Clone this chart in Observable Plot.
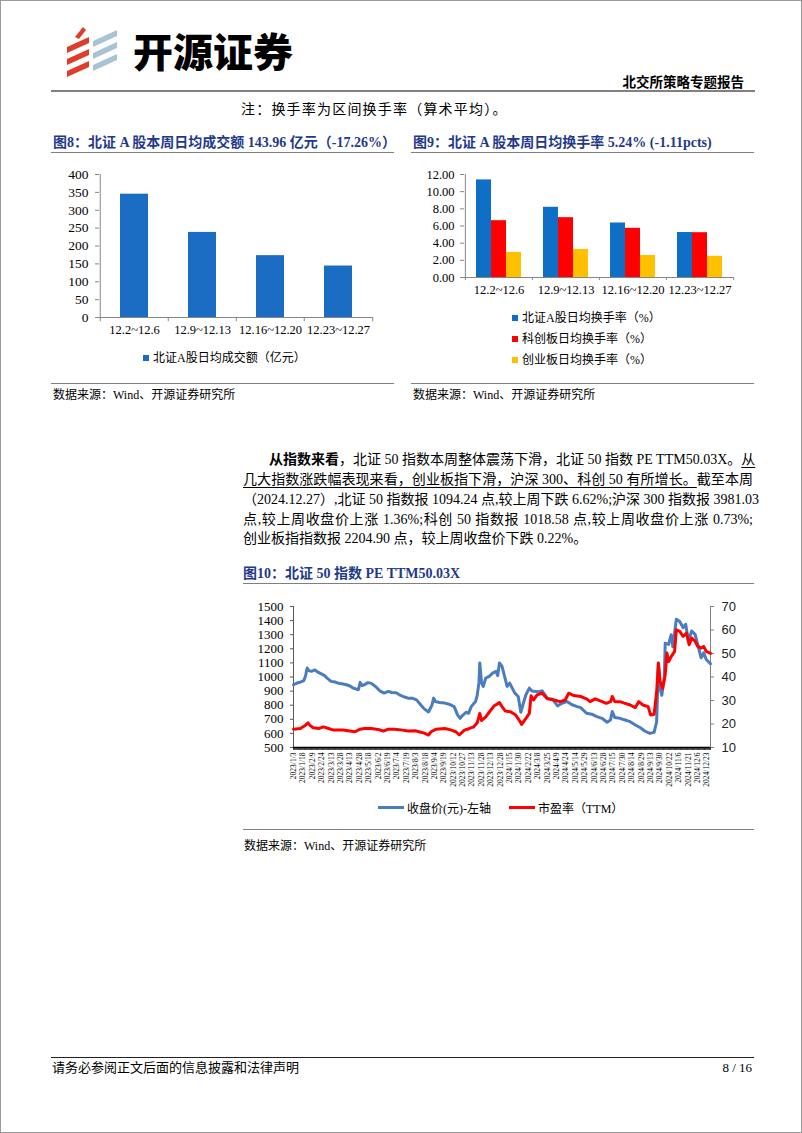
<!DOCTYPE html>
<html><head><meta charset="utf-8">
<script src="https://cdn.jsdelivr.net/npm/d3@7"></script>
<script src="https://cdn.jsdelivr.net/npm/@observablehq/plot@0.6"></script>
<style>
html,body{margin:0;padding:0;background:#fff;}
#page{position:relative;width:802px;height:1133px;box-sizing:border-box;border:1px solid #9a9a9a;overflow:hidden;font-family:"Liberation Serif","Noto Sans CJK SC",serif;color:#000;background:#fff;}
.abs{position:absolute;white-space:nowrap;}
.rule{position:absolute;height:0;}
.ftitle{position:absolute;white-space:nowrap;font-size:14px;line-height:18px;font-weight:bold;color:#1f3a8a;}
.src{position:absolute;white-space:nowrap;font-size:12px;line-height:16px;}
.para{position:absolute;left:242px;width:510px;font-size:14px;line-height:20px;height:20px;text-align:justify;text-align-last:justify;white-space:nowrap;}
.leg{position:absolute;white-space:nowrap;font-size:12px;line-height:16px;}
.sw{display:inline-block;width:6px;height:6px;margin-right:4px;vertical-align:1px;}
.ln{display:inline-block;width:26px;height:3px;margin-right:3px;vertical-align:4px;}
u{text-decoration-thickness:1px;text-underline-offset:3px;}
</style></head>
<body>
<div id="page">
  <svg class="abs" style="left:62px;top:24px" width="62" height="52" viewBox="0 0 62 52">
    <polygon points="4,22 26,12 26,18 4,28" fill="#e03c2c"/>
    <polygon points="4,34 26,24 26,30 4,40" fill="#e03c2c"/>
    <polygon points="4,46 26,36 26,42 4,52" fill="#e03c2c"/>
    <polygon points="12,12 20,2 23,5 16,14" fill="#e03c2c"/>
    <polygon points="30,16 54,5 54,11 30,22" fill="#a8c3d3"/>
    <polygon points="30,28 54,17 54,23 30,34" fill="#a8c3d3"/>
    <polygon points="30,40 54,29 54,35 30,46" fill="#a8c3d3"/>
  </svg>
  <div class="abs" style="left:132px;top:26px;font-family:'Noto Sans CJK SC';font-weight:900;font-size:40px;line-height:46px;letter-spacing:0px">开源证券</div>
  <div class="abs" style="right:57px;top:74px;font-size:13.5px;line-height:16px;font-weight:bold">北交所策略专题报告</div>
  <div class="rule" style="left:50px;top:89px;width:704px;border-top:2px solid #808080"></div>
  <div class="abs" style="left:240px;top:100px;font-size:14px;line-height:18px;letter-spacing:1.2px">注：换手率为区间换手率（算术平均）。</div>

  <div class="ftitle" style="left:52px;top:133px">图8：北证 A 股本周日均成交额 143.96 亿元（-17.26%）</div>
  <div class="rule" style="left:50px;top:151px;width:343px;border-top:1px solid #808080"></div>
  <div class="ftitle" style="left:412px;top:133px">图9：北证 A 股本周日均换手率 5.24% (-1.11pcts)</div>
  <div class="rule" style="left:410px;top:151px;width:343px;border-top:1px solid #808080"></div>

  <div id="c8" class="abs" style="left:40px;top:160px"></div>
  <div id="c9" class="abs" style="left:400px;top:160px"></div>
  <div id="leg8"></div>
  <div id="leg9"></div>

  <div class="rule" style="left:50px;top:382px;width:343px;border-top:1px solid #808080"></div>
  <div class="src" style="left:52px;top:386px">数据来源：Wind、开源证券研究所</div>
  <div class="rule" style="left:410px;top:382px;width:343px;border-top:1px solid #808080"></div>
  <div class="src" style="left:412px;top:386px">数据来源：Wind、开源证券研究所</div>

  <div class="para" style="top:449px;left:268px;width:484px"><b>从指数来看</b>，北证 50 指数本周整体震荡下滑，北证 50 指数 PE TTM50.03X。<u>从</u></div>
  <div class="para" style="top:469px"><u>几大指数涨跌幅表现来看，创业板指下滑，沪深 300、科创 50 有所增长。</u>截至本周</div>
  <div class="para" style="top:489px">（2024.12.27）,北证 50 指数报 1094.24 点,较上周下跌 6.62%;沪深 300 指数报 3981.03</div>
  <div class="para" style="top:509px">点,较上周收盘价上涨 1.36%;科创 50 指数报 1018.58 点,较上周收盘价上涨 0.73%;</div>
  <div class="para" style="top:528px;text-align:left;text-align-last:left">创业板指指数报 2204.90 点，较上周收盘价下跌 0.22%。</div>

  <div class="ftitle" style="left:242px;top:564px">图10：北证 50 指数 PE TTM50.03X</div>
  <div class="rule" style="left:242px;top:582px;width:511px;border-top:1px solid #808080"></div>
  <div id="c10" class="abs" style="left:230px;top:595px"></div>
  <div id="leg10"></div>
  <div class="rule" style="left:242px;top:828px;width:511px;border-top:1px solid #808080"></div>
  <div class="src" style="left:243px;top:837px">数据来源：Wind、开源证券研究所</div>

  <div class="rule" style="left:50px;top:1056px;width:703px;border-top:1.5px solid #222"></div>
  <div class="abs" style="left:51px;top:1059px;font-size:13px;line-height:16px">请务必参阅正文后面的信息披露和法律声明</div>
  <div class="abs" style="right:49px;top:1059px;font-size:13px;line-height:16px">8 / 16</div>
</div>
<script>
// ---------- data ----------
const weeks = ["12.2~12.6", "12.9~12.13", "12.16~12.20", "12.23~12.27"];
const bzAmount = [345, 238, 173, 143.96];           // 北证A股日均成交额（亿元）
const bzTurnover = [11.37, 8.18, 6.35, 5.24];       // 北证A股日均换手率（%）
const kcTurnover = [6.62, 6.97, 5.73, 5.22];        // 科创板日均换手率（%）
const cyTurnover = [2.92, 3.27, 2.57, 2.47];        // 创业板日均换手率（%）

const series9 = ["北证A股日均换手率（%）", "科创板日均换手率（%）", "创业板日均换手率（%）"];
const colors9 = ["#0f6fc6", "#ff0000", "#ffc000"];
const color8 = "#1a6dc2";

// 北证50: trading-day index (0 = 2023/1/3, last = 2024/12/27)
const closeDay = [0,4,8,12,14,16,18,21,25,28,32,36,40,44,49,53,58,62,66,70,76,78,80,83,87,91,96,101,106,111,115,120,124,129,134,139,144,149,153,158,162,164,166,171,177,182,188,192,195,198,202,205,208,213,215,217,218,220,222,225,229,233,237,239,241,244,248,250,253,256,259,263,266,269,272,276,279,283,287,291,297,303,309,314,320,326,332,336,343,349,355,361,367,371,373,376,382,388,394,400,406,411,417,422,425,427,429,431,434,435,439,442,444,448,452,456,459,462,466,470,473,477,480,483,488];
const closeVal = [945,957,964,974,1005,1064,1045,1040,1050,1036,1024,1012,988,969,964,955,950,945,936,921,910,962,940,945,960,955,933,902,886,898,890,888,874,860,850,850,838,802,774,752,800,850,826,819,815,807,790,731,707,728,750,743,790,826,870,960,1100,960,933,993,1005,1028,1040,1010,1100,1076,981,933,957,921,886,862,750,814,874,921,900,898,895,902,850,843,795,814,826,803,790,783,743,736,719,707,679,695,755,712,707,695,683,660,640,617,600,607,683,1100,921,870,1000,1240,1231,1300,1215,1410,1393,1350,1374,1255,1326,1302,1231,1136,1171,1124,1094.24];
const peDay = [0,8,14,17,19,23,30,35,41,47,52,58,64,72,78,83,91,99,105,111,118,126,134,142,147,153,158,161,167,177,184,190,194,200,206,211,215,218,220,225,229,235,241,244,248,254,260,264,267,272,276,278,281,285,291,297,305,312,318,322,328,336,343,347,353,359,366,371,373,376,382,388,394,400,404,409,415,418,422,425,427,429,432,435,437,439,442,446,448,452,456,460,463,466,470,473,477,480,483,488];
const peVal = [17.8,18.1,19.5,20.5,19.5,18.4,18.1,18.8,18.1,17.4,17.5,17.4,17.1,16.7,17.8,18.1,18.1,17.7,17.0,17.8,17.8,17.5,17.0,17.1,16.7,16.1,15.3,16.7,17.8,18.1,17.5,16.7,15.4,17.4,18.1,18.8,20.5,24.5,21.5,23.0,25.0,27.8,29.1,27.4,25.5,25.2,23.8,21.7,19.8,22.4,24.5,32.0,30.2,32.4,33.1,30.7,30.2,29.5,30.2,33.1,32.1,31.7,30.7,29.5,30.7,29.8,28.8,29.5,31.7,29.5,29.5,28.8,28.1,27.0,29.5,28.1,27.4,23.8,24.1,33.8,45.9,38.1,35.2,40.9,50.2,46.6,48.7,50.9,60.1,59.4,57.3,58.7,53.7,56.6,55.2,53.0,52.3,53.0,50.9,50.03];
const dateTicks = ["2023/1/3","2023/1/18","2023/2/9","2023/2/24","2023/3/13","2023/3/28","2023/4/13","2023/4/28","2023/5/18","2023/6/2","2023/6/19","2023/7/4","2023/7/19","2023/8/3","2023/8/18","2023/9/4","2023/9/19","2023/10/12","2023/10/27","2023/11/13","2023/11/28","2023/12/13","2023/12/28","2024/1/15","2024/1/30","2024/2/22","2024/3/8","2024/3/25","2024/4/9","2024/4/24","2024/5/14","2024/5/29","2024/6/13","2024/6/28","2024/7/15","2024/7/30","2024/8/14","2024/8/29","2024/9/13","2024/9/30","2024/10/22","2024/11/6","2024/11/21","2024/12/6","2024/12/23"];
const tickEvery = 11;     // a date label every 11 trading days
const lastDay = 488;
const leftTicks = [500,600,700,800,900,1000,1100,1200,1300,1400,1500];
const rightTicks = [10,20,30,40,50,60,70];

const serif = "'Liberation Serif','Noto Sans CJK SC',serif";

// ---------- chart 8 ----------
{
  const data = weeks.map((w, i) => ({w, v: bzAmount[i]}));
  const W = 350, H = 180, mL = 58, mR = 18;
  const half = (W - mL - mR) / weeks.length / 2;
  const c = Plot.plot({
    width: W, height: H, marginLeft: mL, marginRight: mR, marginTop: 13, marginBottom: 24,
    style: {fontFamily: serif, fontSize: "13px", color: "#000", background: "transparent", overflow: "visible"},
    x: {domain: weeks, paddingInner: 0.591, paddingOuter: 0.2955, align: 0.5},
    y: {domain: [0, 400]},
    marks: [
      Plot.barY(data, {x: "w", y: "v", fill: color8}),
      Plot.ruleX([weeks[0]], {x: d => d, dx: -half, stroke: "#868686"}),
      Plot.ruleX(weeks, {x: d => d, dx: -half, y1: 0, y2: -12, stroke: "#868686"}),
      Plot.ruleX([weeks[weeks.length - 1]], {x: d => d, dx: half, y1: 0, y2: -12, stroke: "#868686"}),
      Plot.ruleY([0], {stroke: "#868686"}),
      Plot.axisY(d3.range(0, 401, 50), {tickSize: 4, tickPadding: 7, label: null, stroke: "#868686", fontSize: 13.5}),
      Plot.axisX({tickSize: 0, tickPadding: 8, label: null, fontSize: 12.5})
    ]
  });
  document.getElementById("c8").appendChild(c);
  const lg = document.getElementById("leg8");
  lg.innerHTML = `<div class="leg" style="left:142px;top:349px"><span class="sw" style="background:${color8}"></span>北证A股日均成交额（亿元）</div>`;
}

// ---------- chart 9 ----------
{
  const vals = [bzTurnover, kcTurnover, cyTurnover];
  const W = 350, H = 180, mL = 63, mR = 18;
  const step = (W - mL - mR) / weeks.length;
  const bw = 15;
  const c = Plot.plot({
    width: W, height: H, marginLeft: mL, marginRight: mR, marginTop: 13, marginBottom: 64,
    style: {fontFamily: serif, fontSize: "12.5px", color: "#000", background: "transparent", overflow: "visible"},
    x: {domain: weeks, paddingInner: 1 - bw / step, paddingOuter: (1 - bw / step) / 2, align: 0.5},
    y: {domain: [0, 12]},
    marks: [
      ...vals.map((arr, k) => Plot.barY(weeks.map((w, i) => ({w, v: arr[i]})), {x: "w", y: "v", fill: colors9[k], dx: (k - 1) * bw})),
      Plot.ruleX([weeks[0]], {x: d => d, dx: -step / 2, stroke: "#868686"}),
      Plot.ruleX(weeks, {x: d => d, dx: -step / 2, y1: 0, y2: -0.35, stroke: "#868686"}),
      Plot.ruleX([weeks[weeks.length - 1]], {x: d => d, dx: step / 2, y1: 0, y2: -0.35, stroke: "#868686"}),
      Plot.ruleY([0], {stroke: "#868686"}),
      Plot.axisY(d3.range(0, 12.01, 2), {tickSize: 4, tickPadding: 6, tickFormat: d3.format(".2f"), label: null, stroke: "#868686", fontSize: 12.5}),
      Plot.axisX({tickSize: 0, tickPadding: 8, label: null, fontSize: 12.5})
    ]
  });
  document.getElementById("c9").appendChild(c);
  const lg = document.getElementById("leg9");
  const tops = [309, 330, 351];
  lg.innerHTML = series9.map((s, k) => `<div class="leg" style="left:511px;top:${tops[k]}px"><span class="sw" style="background:${colors9[k]}"></span>${s}</div>`).join("");
}

// ---------- chart 10 ----------
{
  const [lo, hi] = [leftTicks[0], leftTicks[leftTicks.length - 1]];
  const [rlo, rhi] = [rightTicks[0], rightTicks[rightTicks.length - 1]];
  const toLeft = v => lo + (v - rlo) * (hi - lo) / (rhi - rlo);
  const fromLeft = v => Math.round(rlo + (v - lo) * (rhi - rlo) / (hi - lo));
  const close = closeDay.map((d, i) => ({d, v: closeVal[i]}));
  const pe = peDay.map((d, i) => ({d, v: toLeft(peVal[i])}));
  const labelDays = dateTicks.map((_, i) => i * tickEvery);
  const c = Plot.plot({
    width: 520, height: 200, marginLeft: 62, marginRight: 41, marginTop: 10, marginBottom: 49,
    style: {fontFamily: serif, fontSize: "12.5px", color: "#000", background: "transparent", overflow: "visible"},
    x: {domain: [0, lastDay]},
    y: {domain: [lo, hi]},
    marks: [
      Plot.ruleX([0], {stroke: "#595959"}),
      Plot.ruleX([lastDay], {stroke: "#808080"}),
      Plot.axisY(leftTicks, {tickSize: 3, tickPadding: 7, tickFormat: d => String(d), label: null, stroke: "#595959", fontSize: 13}),
      Plot.axisY(rightTicks.map(toLeft), {anchor: "right", tickFormat: fromLeft, tickSize: 3, tickPadding: 8, label: null, stroke: "#808080", fontSize: 13, fontFamily: "'Liberation Sans',sans-serif", fill: "#222"}),
      Plot.axisX(d3.range(0, lastDay + 1), {tickSize: 3, strokeWidth: 0.7, tickFormat: () => "", label: null, stroke: "#000"}),
      Plot.axisX(labelDays, {tickSize: 0, tickPadding: 5, tickRotate: -90, tickFormat: (d, i) => dateTicks[i], label: null, fontSize: 7.5}),
      Plot.ruleY([lo], {stroke: "#000", strokeWidth: 1.5}),
      Plot.lineY(close, {x: "d", y: "v", stroke: "#4a7cbf", strokeWidth: 3, curve: "linear"}),
      Plot.lineY(pe, {x: "d", y: "v", stroke: "#ff0000", strokeWidth: 3, curve: "linear"})
    ]
  });
  document.getElementById("c10").appendChild(c);
  document.getElementById("leg10").innerHTML =
    `<div class="leg" style="left:377px;top:800px"><span class="ln" style="background:#4a7cbf"></span>收盘价(元)-左轴</div>` +
    `<div class="leg" style="left:508px;top:800px"><span class="ln" style="background:#ff0000"></span>市盈率（TTM）</div>`;
}
</script>
</body></html>
